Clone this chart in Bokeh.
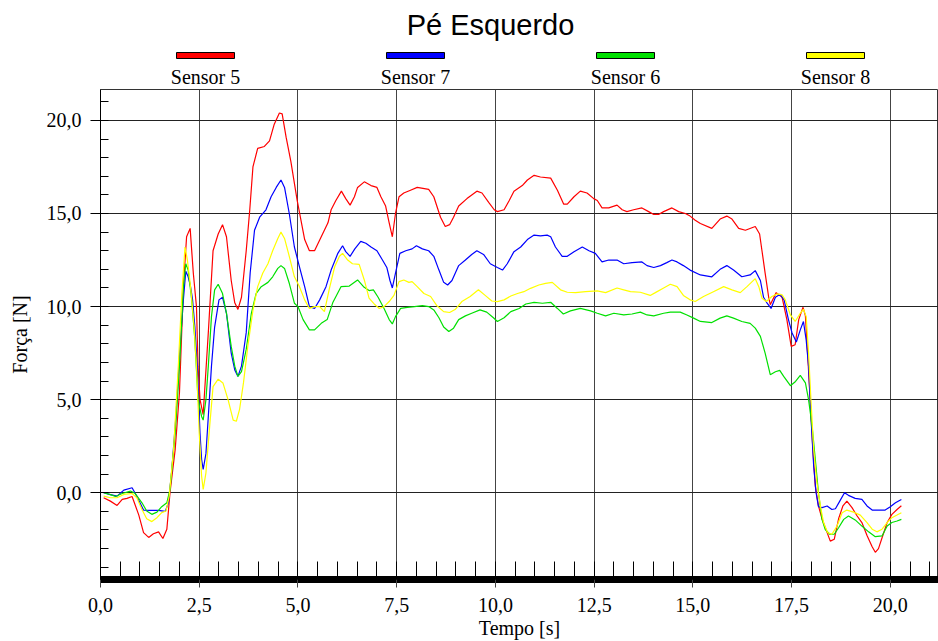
from bokeh.plotting import figure
from bokeh.models import Range1d, SingleIntervalTicker, CustomJSTickFormatter
from bokeh.layouts import column
from bokeh.embed import file_html
from bokeh.resources import INLINE
from bokeh.core.properties import value

title_text = "Pé Esquerdo"
x_label = "Tempo [s]"
y_label = "Força [N]"
series_names = ["Sensor 5", "Sensor 7", "Sensor 6", "Sensor 8"]
series_colors = ["#ff0000", "#0000ff", "#00e000", "#ffff00"]

# Sensor 5 (red)
t5 = [0.08, 0.25, 0.42, 0.55, 0.67, 0.8, 0.97, 1.09, 1.22, 1.34, 1.47, 1.58, 1.68, 1.76, 1.89, 2.0, 2.1, 2.18,
      2.27, 2.35, 2.43, 2.47, 2.52, 2.6, 2.73, 2.85, 2.98, 3.09, 3.19, 3.31, 3.4, 3.48, 3.57, 3.69, 3.78, 3.86,
      3.98, 4.15, 4.28, 4.4, 4.53, 4.6, 4.7, 4.82, 4.98, 5.17, 5.29, 5.42, 5.59, 5.76, 5.84, 5.96, 6.1, 6.21,
      6.32, 6.43, 6.51, 6.68, 6.85, 7.0, 7.1, 7.22, 7.31, 7.39, 7.47, 7.56, 7.68, 7.85, 8.02, 8.31, 8.44, 8.61,
      8.73, 8.84, 8.94, 9.07, 9.28, 9.53, 9.66, 9.83, 9.97, 10.05, 10.22, 10.35, 10.47, 10.68, 10.81, 10.98,
      11.14, 11.4, 11.57, 11.73, 11.82, 11.99, 12.15, 12.32, 12.49, 12.58, 12.7, 12.87, 13.08, 13.21, 13.33,
      13.5, 13.71, 13.88, 14.01, 14.13, 14.26, 14.47, 14.64, 14.81, 14.93, 15.06, 15.19, 15.48, 15.69, 15.86,
      15.99, 16.16, 16.33, 16.58, 16.69, 16.75, 16.83, 16.92, 16.96, 17.11, 17.26, 17.38, 17.49, 17.59, 17.68,
      17.79, 17.85, 17.9, 17.97, 18.04, 18.1, 18.18, 18.27, 18.4, 18.48, 18.58, 18.69, 18.8, 18.9, 19.03,
      19.16, 19.28, 19.41, 19.54, 19.62, 19.7, 19.81, 19.92, 20.04, 20.17, 20.28]
f5 = [-0.27, -0.45, -0.68, -0.36, -0.3, -0.2, -1.2, -2.14, -2.4, -2.2, -2.1, -2.46, -1.96, 0.0, 2.3, 5.4, 11.1,
      13.75, 14.2, 11.8, 10.0, 6.8, 5.0, 4.2, 8.6, 13.0, 13.9, 14.4, 13.75, 11.4, 10.2, 9.85, 10.5, 13.0, 15.2,
      17.5, 18.5, 18.6, 18.9, 19.8, 20.4, 20.35, 19.1, 17.8, 15.7, 13.6, 13.0, 13.0, 13.75, 14.5, 15.2, 15.7,
      16.2, 15.8, 15.45, 15.9, 16.4, 16.7, 16.5, 16.4, 15.9, 15.4, 14.5, 13.75, 15.0, 15.9, 16.1, 16.25, 16.4,
      16.3, 15.9, 14.8, 14.3, 14.4, 14.8, 15.4, 15.8, 16.2, 16.1, 15.6, 15.2, 15.1, 15.2, 15.7, 16.2, 16.5,
      16.8, 17.05, 16.96, 16.9, 16.25, 15.5, 15.5, 15.9, 16.2, 16.1, 15.8, 15.7, 15.3, 15.3, 15.45, 15.2, 15.1,
      15.2, 15.3, 15.1, 14.95, 14.95, 15.1, 15.3, 15.1, 15.0, 14.86, 14.64, 14.46, 14.2, 14.7, 14.86, 14.7,
      14.2, 14.1, 14.3, 13.9, 13.0, 11.8, 10.5, 10.1, 10.75, 10.5, 9.3, 7.86, 7.95, 9.3, 9.96, 9.5, 7.7, 5.0,
      2.3, 0.36, -0.7, -1.4, -2.14, -2.6, -2.5, -1.4, -0.7, -0.45, -0.8, -1.25, -1.6, -2.3, -2.9, -3.2, -3.0,
      -2.3, -1.6, -1.16, -0.9, -0.7]

# Sensor 7 (blue)
t7 = [0.08, 0.25, 0.42, 0.59, 0.8, 0.88, 1.0, 1.09, 1.26, 1.47, 1.64, 1.72, 1.8, 1.91, 2.01, 2.1, 2.16, 2.22,
      2.28, 2.33, 2.39, 2.45, 2.52, 2.56, 2.6, 2.67, 2.73, 2.81, 2.89, 3.0, 3.09, 3.19, 3.31, 3.4, 3.48, 3.57,
      3.69, 3.79, 3.9, 4.03, 4.19, 4.32, 4.45, 4.57, 4.66, 4.78, 4.91, 5.03, 5.17, 5.29, 5.42, 5.55, 5.71, 5.84,
      6.01, 6.13, 6.21, 6.32, 6.44, 6.59, 6.72, 6.85, 7.0, 7.14, 7.25, 7.33, 7.39, 7.47, 7.58, 7.73, 7.89, 8.0,
      8.15, 8.31, 8.44, 8.57, 8.69, 8.79, 8.9, 9.07, 9.24, 9.4, 9.53, 9.7, 9.87, 10.05, 10.18, 10.3, 10.47,
      10.64, 10.81, 10.98, 11.14, 11.31, 11.4, 11.52, 11.69, 11.82, 11.99, 12.2, 12.37, 12.53, 12.7, 12.87,
      13.08, 13.25, 13.46, 13.71, 13.84, 14.01, 14.18, 14.34, 14.47, 14.6, 14.76, 14.93, 15.19, 15.48, 15.69,
      15.86, 16.03, 16.24, 16.45, 16.58, 16.71, 16.79, 16.88, 16.98, 17.09, 17.21, 17.31, 17.42, 17.51, 17.62,
      17.72, 17.8, 17.87, 17.93, 17.99, 18.06, 18.12, 18.18, 18.27, 18.4, 18.52, 18.61, 18.72, 18.84, 18.94,
      19.11, 19.28, 19.41, 19.54, 19.7, 19.87, 20.0, 20.13, 20.28]
f7 = [0.0, -0.1, -0.18, 0.14, 0.27, -0.04, -0.54, -0.93, -0.95, -0.95, -1.0, -0.54, 1.07, 4.1, 7.7, 10.4, 11.9,
      11.6, 11.07, 10.4, 8.9, 6.8, 3.2, 1.8, 1.25, 2.1, 4.1, 6.8, 8.9, 10.36, 10.5, 9.64, 7.5, 6.6, 6.25, 6.8,
      8.6, 11.8, 14.1, 14.8, 15.2, 15.9, 16.4, 16.8, 16.4, 15.0, 13.2, 12.2, 11.07, 10.0, 9.9, 10.36, 11.07,
      11.96, 12.86, 13.27, 12.95, 12.7, 13.1, 13.5, 13.4, 13.2, 13.0, 12.5, 12.1, 11.4, 11.0, 11.8, 12.86, 13.0,
      13.1, 13.27, 13.1, 13.0, 12.7, 11.96, 11.3, 11.16, 11.4, 12.2, 12.5, 12.8, 13.0, 12.8, 12.3, 12.1, 11.96,
      12.3, 12.95, 13.2, 13.6, 13.84, 13.8, 13.84, 13.75, 13.2, 12.7, 12.7, 12.95, 13.2, 13.0, 12.86, 12.4,
      12.5, 12.5, 12.3, 12.36, 12.4, 12.2, 12.1, 12.2, 12.36, 12.5, 12.4, 12.2, 11.96, 11.7, 11.6, 12.0, 12.2,
      11.96, 11.6, 11.7, 11.93, 11.4, 10.5, 10.18, 9.9, 10.5, 10.66, 10.36, 9.3, 8.6, 8.1, 8.75, 9.2, 8.2, 6.8,
      4.1, 1.43, 0.0, -0.75, -0.8, -0.71, -0.9, -0.86, -0.45, 0.0, -0.14, -0.3, -0.36, -0.71, -0.93, -0.93,
      -0.93, -0.75, -0.54, -0.36]

# Sensor 6 (green)
t6 = [0.08, 0.25, 0.38, 0.55, 0.76, 0.88, 1.05, 1.17, 1.3, 1.43, 1.55, 1.68, 1.76, 1.89, 2.0, 2.1, 2.16, 2.22,
      2.31, 2.39, 2.47, 2.56, 2.6, 2.67, 2.73, 2.81, 2.89, 2.98, 3.09, 3.19, 3.31, 3.4, 3.48, 3.57, 3.69, 3.82,
      3.94, 4.07, 4.24, 4.36, 4.49, 4.57, 4.66, 4.78, 4.91, 5.0, 5.13, 5.29, 5.42, 5.59, 5.74, 5.88, 6.09, 6.3,
      6.51, 6.66, 6.8, 6.91, 7.03, 7.18, 7.31, 7.39, 7.47, 7.6, 7.77, 7.95, 8.15, 8.31, 8.44, 8.57, 8.69, 8.82,
      8.94, 9.07, 9.24, 9.4, 9.61, 9.78, 9.95, 10.05, 10.22, 10.39, 10.6, 10.77, 10.98, 11.19, 11.4, 11.57,
      11.72, 11.9, 12.15, 12.41, 12.58, 12.79, 13.0, 13.25, 13.46, 13.67, 13.84, 14.01, 14.26, 14.43, 14.68,
      14.85, 15.02, 15.19, 15.48, 15.69, 15.86, 16.03, 16.24, 16.45, 16.58, 16.71, 16.83, 16.96, 17.09, 17.2,
      17.3, 17.47, 17.6, 17.72, 17.85, 17.93, 18.02, 18.1, 18.18, 18.27, 18.35, 18.46, 18.58, 18.69, 18.82,
      18.94, 19.11, 19.28, 19.45, 19.62, 19.79, 19.92, 20.04, 20.17, 20.28]
f6 = [0.0, -0.1, -0.2, -0.04, 0.09, -0.04, -0.54, -0.98, -1.16, -1.04, -0.75, -0.54, 0.18, 3.2, 6.8, 11.07,
      12.3, 11.96, 10.36, 8.2, 5.0, 4.1, 3.9, 5.0, 6.8, 9.46, 10.9, 11.2, 10.7, 9.64, 7.86, 6.8, 6.25, 6.5, 7.7,
      9.64, 10.7, 11.07, 11.3, 11.6, 12.05, 12.2, 12.05, 11.25, 10.18, 10.0, 9.3, 8.75, 8.75, 9.1, 9.3, 10.2,
      11.07, 11.1, 11.43, 11.07, 10.86, 10.9, 10.5, 9.9, 9.3, 9.07, 9.46, 9.9, 9.96, 10.0, 10.05, 10.0, 9.82,
      9.4, 8.9, 8.66, 8.84, 9.3, 9.5, 9.64, 9.82, 9.7, 9.4, 9.2, 9.4, 9.73, 9.9, 10.14, 10.23, 10.18, 10.23,
      9.9, 9.6, 9.77, 9.9, 9.77, 9.64, 9.5, 9.64, 9.55, 9.6, 9.7, 9.55, 9.5, 9.64, 9.7, 9.7, 9.55, 9.38, 9.2,
      9.14, 9.38, 9.5, 9.38, 9.2, 9.1, 8.84, 8.4, 7.5, 6.34, 6.5, 6.57, 6.25, 5.75, 5.98, 6.3, 5.9, 5.0, 3.57,
      1.79, 0.0, -1.43, -1.96, -2.23, -2.23, -1.88, -1.43, -1.25, -1.46, -1.79, -2.1, -2.36, -2.32, -1.79, -1.6,
      -1.52, -1.43]

# Sensor 8 (yellow)
t8 = [0.08, 0.25, 0.42, 0.59, 0.8, 0.92, 1.05, 1.17, 1.3, 1.43, 1.55, 1.66, 1.74, 1.85, 1.97, 2.06, 2.14, 2.2,
      2.28, 2.37, 2.43, 2.5, 2.56, 2.6, 2.67, 2.75, 2.85, 2.98, 3.1, 3.23, 3.36, 3.44, 3.52, 3.62, 3.73, 3.86,
      3.98, 4.11, 4.24, 4.36, 4.49, 4.57, 4.66, 4.78, 4.91, 5.03, 5.17, 5.29, 5.42, 5.55, 5.67, 5.8, 5.93, 6.05,
      6.13, 6.26, 6.38, 6.55, 6.68, 6.8, 6.93, 7.06, 7.18, 7.31, 7.43, 7.56, 7.68, 7.81, 7.89, 8.02, 8.19, 8.36,
      8.52, 8.69, 8.84, 8.99, 9.15, 9.36, 9.57, 9.74, 9.91, 10.05, 10.22, 10.39, 10.56, 10.72, 10.89, 11.1,
      11.27, 11.44, 11.65, 11.82, 12.03, 12.28, 12.58, 12.79, 13.08, 13.25, 13.42, 13.67, 13.92, 14.05, 14.26,
      14.43, 14.6, 14.76, 14.93, 15.06, 15.27, 15.52, 15.78, 15.99, 16.2, 16.37, 16.58, 16.67, 16.75, 16.86,
      17.0, 17.13, 17.26, 17.34, 17.47, 17.59, 17.72, 17.8, 17.87, 17.93, 17.99, 18.06, 18.14, 18.23, 18.31,
      18.41, 18.52, 18.65, 18.78, 18.9, 19.07, 19.24, 19.41, 19.54, 19.66, 19.79, 19.92, 20.04, 20.17, 20.28]
f8 = [-0.18, -0.27, -0.27, -0.09, -0.04, -0.27, -0.9, -1.4, -1.55, -1.34, -1.07, -0.98, -0.18, 2.3, 6.8, 10.7,
      13.2, 12.5, 11.07, 8.9, 6.8, 3.2, 0.9, 0.18, 1.07, 3.2, 5.7, 6.1, 5.9, 5.0, 3.9, 3.84, 4.46, 5.9, 7.86,
      9.8, 11.07, 11.8, 12.3, 13.0, 13.66, 14.0, 13.66, 12.7, 11.6, 11.1, 10.36, 9.9, 10.0, 10.0, 9.73, 11.0,
      12.14, 12.7, 12.86, 12.5, 12.3, 12.27, 11.43, 10.45, 10.14, 9.9, 10.0, 10.27, 10.6, 11.34, 11.43, 11.3,
      11.34, 11.07, 10.7, 10.54, 10.04, 9.73, 9.68, 9.86, 10.27, 10.54, 10.9, 10.6, 10.3, 10.27, 10.36, 10.57,
      10.7, 10.8, 10.98, 11.16, 11.25, 11.3, 10.9, 10.77, 10.75, 10.8, 10.84, 10.75, 11.0, 10.9, 10.8, 10.77,
      10.6, 10.75, 11.0, 11.2, 11.07, 10.6, 10.36, 10.27, 10.54, 10.8, 11.07, 10.9, 10.75, 11.07, 11.5, 11.07,
      10.45, 10.27, 10.54, 10.68, 10.63, 10.36, 9.55, 9.2, 9.64, 9.86, 9.46, 7.5, 5.0, 2.3, 0.54, -0.71, -1.6,
      -2.14, -2.23, -1.79, -1.07, -0.93, -1.04, -1.2, -1.6, -1.96, -2.1, -1.96, -1.6, -1.34, -1.2, -1.07]

series_t = [t5, t7, t6, t8]
series_f = [f5, f7, f6, f8]

SERIF = "Liberation Serif"
SANS = "Liberation Sans"

W, H = 938, 641
LEFT = 100          # left border (frame starts here)
HH = 87             # header height
# ---------- header (title + legend); its frame is aligned with the main frame ----------
hdr = figure(width=W, height=HH, x_range=Range1d(LEFT, W), y_range=Range1d(0, HH),
             output_backend="svg", toolbar_location=None, x_axis_type=None, y_axis_type=None,
             min_border_left=LEFT, min_border_right=0, min_border_top=0, min_border_bottom=0,
             outline_line_color=None)
hdr.xgrid.visible = False
hdr.ygrid.visible = False
hdr.text(x=[490], y=[63], text=[title_text], text_font=value(SANS), text_font_size="29px",
         text_align="center", text_baseline="middle", text_color="black")
lx = [205 + 210 * i for i in range(len(series_names))]
hdr.rect(x=lx, y=[32] * len(lx), width=58, height=6, fill_color=series_colors,
         line_color="black", line_width=1)
hdr.text(x=lx, y=[11] * len(lx), text=series_names, text_font=value(SERIF), text_font_size="20px",
         text_align="center", text_baseline="middle", text_color="black")

# ---------- main chart ----------
p = figure(width=W, height=H - HH, x_range=Range1d(0, 21.22), y_range=Range1d(-4.66, 21.66),
           output_backend="svg", toolbar_location=None,
           min_border_left=LEFT, min_border_right=0, min_border_top=2, min_border_bottom=61,
           outline_line_color="#333333", background_fill_color="white", border_fill_color="white")

for t, f, c in zip(series_t, series_f, series_colors):
    p.line(t, f, line_color=c, line_width=1.2)

fmt = CustomJSTickFormatter(code="return tick.toFixed(1).replace('.', ',');")

xa = p.xaxis[0]
xa.ticker = SingleIntervalTicker(interval=2.5, num_minor_ticks=5)
xa.formatter = fmt
xa.axis_line_width = 7
xa.axis_line_color = "black"
xa.major_tick_in = 0
xa.major_tick_out = 8
xa.major_tick_line_color = "#444444"
xa.minor_tick_in = 18
xa.minor_tick_out = 0
xa.minor_tick_line_color = "black"
xa.major_label_text_font = SERIF
xa.major_label_text_font_size = "20px"
xa.major_label_text_color = "black"
xa.major_label_standoff = 10
xa.axis_label = x_label
xa.axis_label_text_font = SERIF
xa.axis_label_text_font_size = "20px"
xa.axis_label_text_font_style = "normal"
xa.axis_label_text_color = "black"
xa.axis_label_standoff = 2

ya = p.yaxis[0]
ya.ticker = SingleIntervalTicker(interval=5, num_minor_ticks=5)
ya.formatter = fmt
ya.axis_line_color = "black"
ya.major_tick_in = 0
ya.major_tick_out = 10
ya.major_tick_line_color = "black"
ya.minor_tick_in = 8
ya.minor_tick_out = 0
ya.minor_tick_line_color = "black"
ya.major_label_text_font = SERIF
ya.major_label_text_font_size = "20px"
ya.major_label_text_color = "black"
ya.major_label_standoff = 9
ya.axis_label = y_label
ya.axis_label_text_font = SERIF
ya.axis_label_text_font_size = "20px"
ya.axis_label_text_font_style = "normal"
ya.axis_label_text_color = "black"
ya.axis_label_standoff = 13

p.xgrid.ticker = SingleIntervalTicker(interval=2.5)
p.ygrid.ticker = SingleIntervalTicker(interval=5)
p.xgrid.grid_line_color = "#444444"
p.ygrid.grid_line_color = "#222222"
p.xgrid.grid_line_width = 1
p.ygrid.grid_line_width = 1

layout = column(hdr, p, spacing=0)
open("out.html", "w").write(file_html(layout, INLINE))
